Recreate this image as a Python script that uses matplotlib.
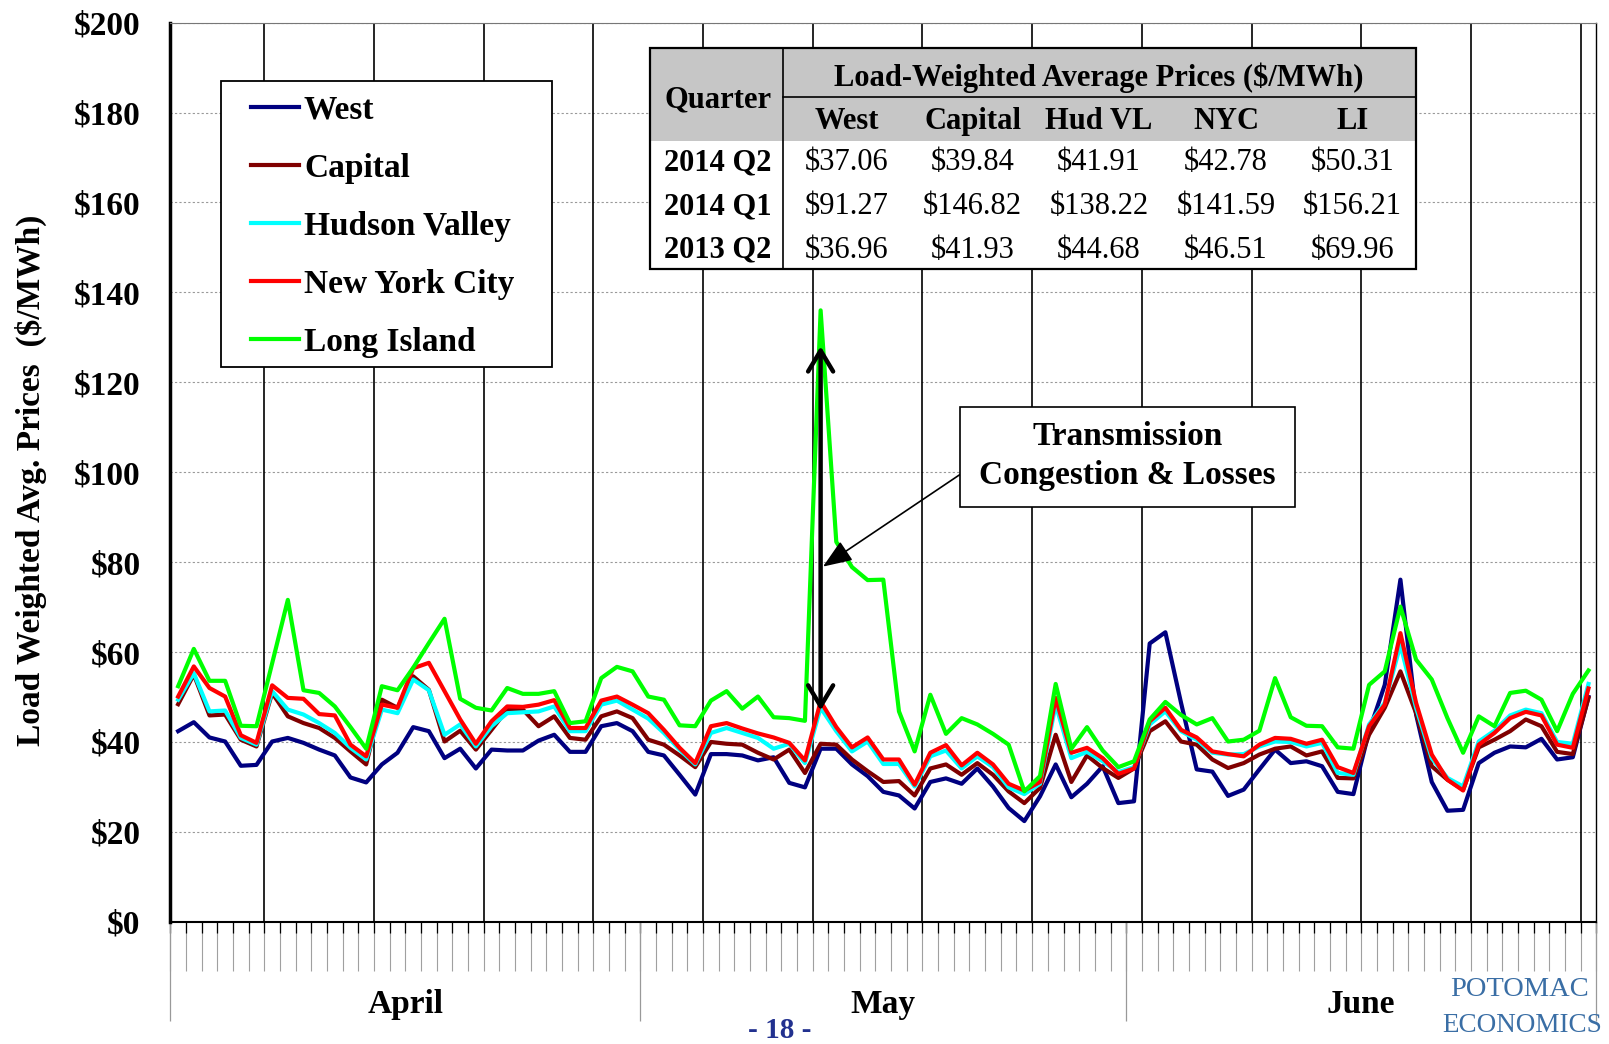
import matplotlib.pyplot as plt
import numpy as np
from matplotlib.patches import Rectangle
from matplotlib.ticker import FuncFormatter
from matplotlib.transforms import blended_transform_factory

plt.rcParams['font.family'] = ['Liberation Serif', 'DejaVu Serif']
plt.rcParams['font.weight'] = 'bold'

# daily load weighted prices, April 1 - June 30 2014 ($/MWh)
west = [42.4, 44.4, 41.0, 40.1, 34.7, 34.9, 40.1, 40.9, 39.8, 38.3,
        37.0, 32.1, 31.0, 35.0, 37.6, 43.3, 42.4, 36.4, 38.5, 34.1,
        38.3, 38.1, 38.1, 40.3, 41.6, 37.8, 37.8, 43.5, 44.2, 42.4,
        37.8, 37.0, 32.7, 28.3, 37.3, 37.3, 37.0, 35.9, 36.6, 30.9,
        29.9, 38.5, 38.5, 35.0, 32.4, 28.9, 28.1, 25.2, 31.1, 31.9,
        30.7, 34.1, 30.1, 25.3, 22.4, 27.9, 35.0, 27.7, 30.7, 34.6,
        26.4, 26.8, 61.9, 64.4, 48.7, 33.9, 33.4, 28.0, 29.4, 33.9,
        38.3, 35.3, 35.7, 34.6, 28.9, 28.4, 42.4, 52.7, 76.1, 46.1,
        31.1, 24.7, 24.9, 35.3, 37.6, 39.0, 38.8, 40.7, 36.1, 36.6,
        50.0]
capital = [48.4, 55.0, 45.9, 46.1, 40.5, 39.0, 50.9, 45.7, 44.2, 43.1,
           40.9, 37.9, 35.0, 49.4, 47.6, 54.6, 51.6, 40.1, 42.5, 38.3,
           42.7, 47.2, 47.2, 43.5, 45.7, 40.9, 40.5, 45.7, 46.8, 45.3,
           40.5, 39.4, 37.0, 34.4, 40.0, 39.6, 39.4, 37.6, 36.1, 38.3,
           33.1, 39.6, 39.4, 36.1, 33.5, 31.1, 31.3, 28.1, 34.1, 35.0,
           32.7, 35.3, 32.7, 29.0, 26.4, 29.8, 41.6, 31.1, 37.0, 34.2,
           32.0, 34.1, 42.4, 44.6, 40.1, 39.4, 36.1, 34.2, 35.3, 37.2,
           38.5, 39.0, 37.0, 37.9, 32.0, 31.9, 41.6, 47.6, 55.7, 46.4,
           34.6, 31.6, 29.4, 38.8, 40.5, 42.4, 45.0, 43.5, 37.8, 37.3,
           49.8]
hudson = [49.4, 55.3, 46.8, 47.0, 40.9, 39.4, 51.3, 47.2, 46.1, 44.2,
          42.0, 38.7, 36.1, 47.2, 46.4, 53.9, 51.5, 41.6, 43.9, 39.0,
          43.5, 46.4, 46.6, 46.8, 47.9, 42.4, 42.4, 48.3, 49.2, 47.2,
          45.2, 42.0, 38.3, 35.0, 42.0, 43.1, 42.0, 40.9, 38.5, 39.6,
          35.3, 47.6, 42.4, 37.9, 40.1, 35.1, 35.1, 30.1, 36.8, 38.1,
          34.1, 36.8, 34.4, 29.9, 28.4, 30.7, 48.3, 36.4, 37.8, 35.7,
          33.3, 34.4, 43.9, 46.8, 42.4, 40.5, 37.6, 37.2, 37.3, 39.0,
          40.1, 40.0, 39.0, 39.8, 33.1, 32.7, 43.9, 48.7, 61.6, 47.6,
          36.4, 32.0, 30.1, 40.1, 42.5, 45.9, 47.2, 46.4, 40.0, 39.6,
          52.9]
nyc = [50.1, 56.8, 52.0, 50.1, 41.5, 39.8, 52.6, 49.8, 49.6, 46.2,
       45.9, 39.4, 36.8, 48.3, 47.6, 56.4, 57.6, 51.3, 45.0, 39.6,
       44.6, 47.9, 47.8, 48.3, 49.3, 43.1, 43.1, 49.2, 50.1, 48.3,
       46.4, 42.7, 38.7, 35.3, 43.5, 44.2, 43.0, 41.9, 41.0, 39.8,
       35.9, 49.0, 43.3, 38.8, 41.0, 36.1, 36.1, 30.5, 37.6, 39.3,
       34.8, 37.6, 35.0, 30.7, 29.2, 31.1, 49.8, 37.6, 38.7, 36.4,
       32.9, 34.1, 44.6, 47.6, 42.7, 41.0, 37.9, 37.3, 36.8, 39.4,
       40.9, 40.7, 39.6, 40.5, 34.4, 33.1, 43.5, 48.3, 64.2, 48.7,
       37.2, 31.6, 29.2, 39.4, 42.0, 45.3, 46.7, 45.9, 39.4, 38.7,
       51.9]
long_island = [52.4, 60.7, 53.6, 53.6, 43.6, 43.5, 57.5, 71.6, 51.5, 50.9,
               47.9, 43.3, 38.5, 52.4, 51.5, 56.5, 62.0, 67.4, 49.6, 47.6,
               47.0, 52.0, 50.7, 50.7, 51.3, 44.2, 44.6, 54.2, 56.7, 55.7,
               50.1, 49.4, 43.7, 43.5, 49.2, 51.3, 47.4, 50.1, 45.5, 45.3,
               44.7, 136.0, 84.5, 78.9, 76.0, 76.1, 46.8, 37.9, 50.5, 41.8,
               45.3, 43.9, 41.8, 39.4, 29.0, 32.4, 52.9, 38.5, 43.3, 38.1,
               34.4, 35.7, 45.0, 48.9, 46.0, 43.9, 45.3, 40.1, 40.5, 42.5,
               54.2, 45.5, 43.6, 43.5, 38.8, 38.5, 52.7, 55.7, 70.1, 58.3,
               53.9, 45.3, 37.6, 45.7, 43.5, 50.9, 51.4, 49.4, 42.4, 50.7,
               55.9]

series_names = ['West', 'Capital', 'Hudson Valley', 'New York City', 'Long Island']
series_colors = ['#000080', '#800000', '#00ffff', '#ff0000', '#00ff00']

months = ['April', 'May', 'June']
month_days = [30, 31, 30]
first_monday = 6   # April 7 2014

# inset table
quarters = ['2014 Q2', '2014 Q1', '2013 Q2']
zone_cols = ['West', 'Capital', 'Hud VL', 'NYC', 'LI']
quarter_prices = [[37.06, 39.84, 41.91, 42.78, 50.31],
                  [91.27, 146.82, 138.22, 141.59, 156.21],
                  [36.96, 41.93, 44.68, 46.51, 69.96]]

W, H = 1609, 1044
fig = plt.figure(figsize=(W / 100, H / 100), dpi=100)
ax = fig.add_axes([170.3 / W, 1 - 921.8 / H, 1426 / W, 899.2 / H])

n_days = sum(month_days)
days = np.arange(n_days)

# weekly separators
for b in range(first_monday, n_days, 7):
    ax.axvline(b - 0.5, color='black', lw=1.2, zorder=1)

for vals, name, col in zip([west, capital, hudson, nyc, long_island], series_names, series_colors):
    ax.plot(days, vals, color=col, lw=3.0, label=name, zorder=3)

ax.set_xlim(-0.5, n_days - 0.5)
ax.set_ylim(0, 200)
ax.set_yticks(np.arange(0, 201, 20))
ax.yaxis.set_major_formatter(FuncFormatter(lambda v, p: f'${v:.0f}'))
ax.yaxis.grid(True, linestyle=(0, (2, 2)), color='#999999', lw=0.8)
ax.set_axisbelow(True)
ax.tick_params(axis='y', labelsize=24, length=0, pad=21.5)
for lab in ax.get_yticklabels():
    lab.set_fontweight('bold')

# category axis: tick marks between days
ax.set_xticks(np.arange(-0.5, n_days, 1))
ax.set_xticklabels([])
ax.tick_params(axis='x', length=35, width=0.8, color='#a0a0a0', direction='out')
trans = blended_transform_factory(ax.transData, ax.transAxes)
ax.vlines(np.arange(-0.5, n_days, 1), -0.013, 0, transform=trans, color='black', lw=0.9, clip_on=False)

bounds = np.concatenate([[0], np.cumsum(month_days)]) - 0.5
ax.vlines(bounds, -0.11, 0, transform=trans, color='#999999', lw=0.9, clip_on=False)
for m, a, b in zip(months, bounds[:-1], bounds[1:]):
    ax.text((a + b) / 2, -0.092, m, transform=trans, ha='center', va='center', fontsize=24, fontweight='bold')

ax.spines['left'].set_linewidth(2.5)
ax.spines['bottom'].set_linewidth(1.5)
ax.spines['top'].set_linewidth(0.8)
ax.spines['top'].set_color('#777777')
ax.spines['right'].set_linewidth(1.0)

fig.text(30.8 / W, 1 - 480.7 / H, 'Load Weighted Avg. Prices  ($/MWh)', rotation=90,
         ha='center', va='center', fontsize=24, fontweight='bold')

# legend: frame drawn separately so the padding matches
ax.add_patch(Rectangle((0.0353, 0.6167), 0.2324, 0.3184, transform=ax.transAxes, facecolor='white',
                       edgecolor='black', lw=1.3, zorder=5))
leg = ax.legend(loc='upper left', bbox_to_anchor=(0.0563, 0.9195), fontsize=24, frameon=False,
                borderaxespad=0, borderpad=0, handlelength=1.45, handletextpad=0.15, labelspacing=0.81)
leg.set_zorder(6)
for t in leg.get_texts():
    t.set_fontweight('bold')

# double-headed arrow over the LI spike and callout
ax.annotate('', xy=(41, 128), xytext=(41, 47),
            arrowprops=dict(arrowstyle='<->,head_length=0.5,head_width=0.3', lw=3.2, color='black',
                            mutation_scale=30, shrinkA=0, shrinkB=0), zorder=6)
ax.annotate('', xy=(41.15, 79), xytext=(49.9, 99.5),
            arrowprops=dict(arrowstyle='-|>,head_length=0.9,head_width=0.35', lw=1.2, color='black',
                            mutation_scale=20, shrinkA=0, shrinkB=0), zorder=6)
ax.add_patch(Rectangle((49.9, 92.2), 21.4, 22.4, facecolor='white', edgecolor='black', lw=1.2, zorder=6))
ax.text(60.6, 103.6, 'Transmission\nCongestion & Losses', ha='center', va='center',
        fontsize=24, fontweight='bold', linespacing=1.3, zorder=7)

# summary table
tx0, ty0, tx1, ty1 = 649.5, 48.2, 1416, 268.8
tab = fig.add_axes([tx0 / W, 1 - ty1 / H, (tx1 - tx0) / W, (ty1 - ty0) / H])
tab.set_xlim(0, tx1 - tx0)
tab.set_ylim(ty1 - ty0, 0)
tab.axis('off')
tw, th = tx1 - tx0, ty1 - ty0
tab.add_patch(Rectangle((0, 0), tw, th, facecolor='white', edgecolor='none'))
tab.add_patch(Rectangle((0, 0), tw, 92.4, facecolor='#c6c6c6', edgecolor='none'))
tab.add_patch(Rectangle((0, 0), tw, th, facecolor='none', edgecolor='black', lw=1.6, clip_on=False))
tab.plot([133.5, 133.5], [0, th], color='black', lw=1.2)
tab.plot([133.5, tw], [48.3, 48.3], color='black', lw=1.2)
tab.text(68.5, 51.5, 'Quarter', ha='center', va='center', fontsize=22, fontweight='bold')
tab.text(449.5, 30, 'Load-Weighted Average Prices ($/MWh)', ha='center', va='center',
         fontsize=22, fontweight='bold')
col_x = [197, 323.2, 449.5, 576.5, 702.9]
row_y = [114.5, 158.5, 201.8]
for cx, name in zip(col_x, zone_cols):
    tab.text(cx, 73.5, name, ha='center', va='center', fontsize=22, fontweight='bold')
for ry, q, prices in zip(row_y, quarters, quarter_prices):
    tab.text(68.5, ry, q, ha='center', va='center', fontsize=22, fontweight='bold')
    for cx, p in zip(col_x, prices):
        tab.text(cx, ry, f'${p:.2f}', ha='center', va='center', fontsize=22, fontweight='normal')

fig.text(780 / W, 1 - 1031 / H, '- 18 -', ha='center', va='center', fontsize=21,
         fontweight='bold', color='#22318f')
fig.text(1520 / W, 1 - 990 / H, 'POTOMAC', ha='center', va='center', fontsize=20.5,
         fontweight='normal', color='#3a6ea5')
fig.text(1522 / W, 1 - 1025 / H, 'ECONOMICS', ha='center', va='center', fontsize=19.5,
         fontweight='normal', color='#3a6ea5')

fig.savefig('out.png', dpi=100)
